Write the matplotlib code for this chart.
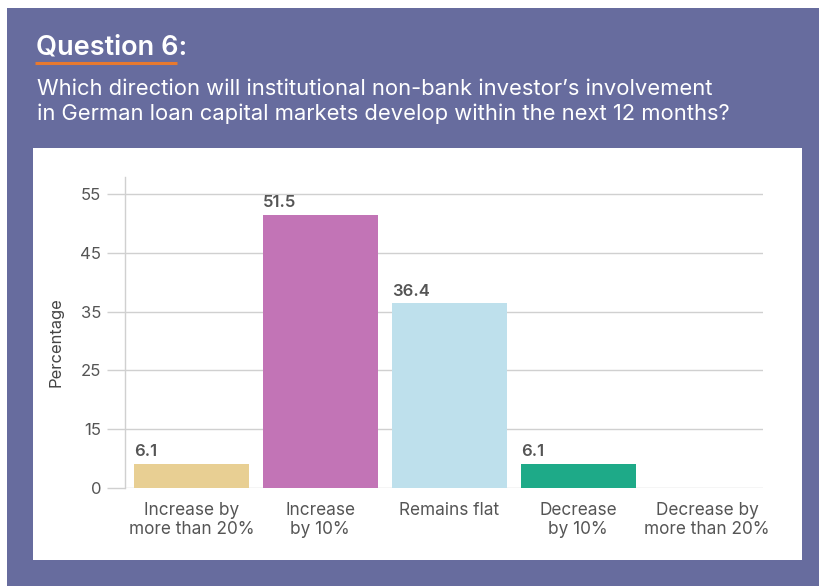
import numpy as np
import matplotlib
matplotlib.use("Agg")
import matplotlib.pyplot as plt
from matplotlib.patches import Rectangle
from matplotlib.lines import Line2D

plt.rcParams['font.family'] = ['Inter', 'DejaVu Sans']

# ---- data ----
categories = ["Increase by\nmore than 20%", "Increase\nby 10%", "Remains flat",
              "Decrease\nby 10%", "Decrease by\nmore than 20%"]
values = [6.1, 51.5, 36.4, 6.1, 0.0]
bar_colors = ["#E8CF93", "#C274B6", "#BEE0EC", "#1EAA88", "#CCCCCC"]
y_ticks = [0, 15, 25, 35, 45, 55]
title = "Question 6:"
subtitle_lines = ["Which direction will institutional non-bank investor\u2019s involvement",
                  "in German loan capital markets develop within the next 12 months?"]
ylabel = "Percentage"

W, H = 819, 586
fig = plt.figure(figsize=(W / 100, H / 100), dpi=100)
fig.patch.set_facecolor("white")

def px(x, y, w, h):
    return (x / W, 1 - (y + h) / H, w / W, h / H)

PURPLE = "#676C9E"
x0, y0, w0, h0 = px(7, 8, 812, 578)
fig.add_artist(Rectangle((x0, y0), w0, h0, transform=fig.transFigure,
                         facecolor=PURPLE, edgecolor="none", zorder=0))
x1, y1, w1, h1 = px(33, 148, 769, 412)
fig.add_artist(Rectangle((x1, y1), w1, h1, transform=fig.transFigure,
                         facecolor="white", edgecolor="none", zorder=0))

# title
fig.text(36 / W, 1 - 55 / H, title, color="white", fontsize=19.5, fontweight="semibold",
         va="baseline", ha="left")
fig.add_artist(Line2D([35 / W, 177 / W], [1 - 62.5 / H, 1 - 62.5 / H], transform=fig.transFigure,
                      color="#E8792E", linewidth=2.2, solid_capstyle="butt"))
fig.text(37 / W, 1 - 95 / H, subtitle_lines[0], color="white", fontsize=15.8,
         va="baseline", ha="left")
fig.text(37 / W, 1 - 120 / H, subtitle_lines[1], color="white", fontsize=15.8,
         va="baseline", ha="left")

# axes
ax = fig.add_axes([125 / W, 1 - 488 / H, (763 - 125) / W, (488 - 177) / H])
ax.set_facecolor("none")

def fwd(y):
    y = np.asarray(y, dtype=float)
    return np.where(y <= 15, y / 15.0, 1 + (y - 15) / 10.0)

def inv(t):
    t = np.asarray(t, dtype=float)
    return np.where(t <= 1, t * 15.0, 15 + (t - 1) * 10.0)

ax.set_yscale("function", functions=(fwd, inv))
ax.set_ylim(0, 57.9)
ax.set_xlim(-0.515, 4.434)

xs = np.arange(len(categories))
bw = 0.89
bars = ax.bar(xs, values, width=bw, color=bar_colors, zorder=3)

for x, v in zip(xs, values):
    if v > 0:
        ax.annotate(f"{v:.1f}", xy=(x - bw / 2, v), xytext=(0, 3.5), textcoords="offset points",
                    ha="left", va="bottom", fontsize=12, fontweight="semibold", color="#555555")

ax.set_yticks(y_ticks)
ax.set_yticklabels([str(t) for t in y_ticks])
ax.yaxis.set_minor_locator(matplotlib.ticker.NullLocator())
ax.grid(axis="y", color="#D0D0D0", linewidth=1, zorder=0)
ax.tick_params(axis="y", length=13, color="#D0D0D0", width=1, pad=4,
               labelsize=12, labelcolor="#555555")
ax.set_xticks(xs)
ax.set_xticklabels(categories, linespacing=1.2)
ax.tick_params(axis="x", length=0, pad=10, labelsize=12.4, labelcolor="#555555")

for s in ["top", "right", "bottom"]:
    ax.spines[s].set_visible(False)
ax.spines["left"].set_color("#D0D0D0")
ax.spines["left"].set_linewidth(1)

ax.set_ylabel(ylabel, fontsize=11.9, color="#444444")
ax.yaxis.set_label_coords((63 - 125) / (763 - 125), (488 - 342) / (488 - 177))

fig.savefig("out.png", dpi=100)
